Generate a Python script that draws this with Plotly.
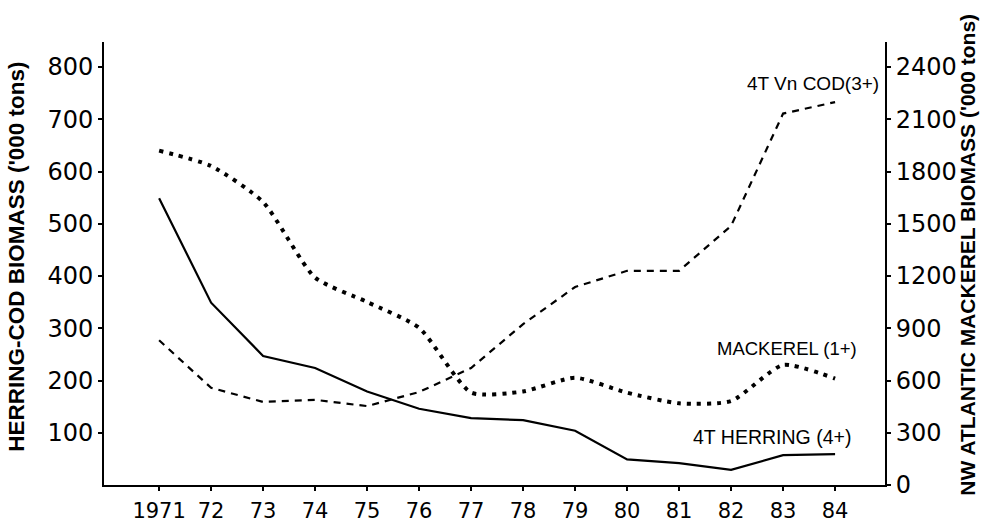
import plotly.graph_objects as go

years = [1971, 1972, 1973, 1974, 1975, 1976, 1977, 1978, 1979, 1980, 1981, 1982, 1983, 1984]
year_labels = ["1971", "72", "73", "74", "75", "76", "77", "78", "79", "80", "81", "82", "83", "84"]

herring_4t = [549, 349, 247, 224, 179, 146, 128, 124, 104, 49, 42, 29, 57, 59]
cod_4tvn = [277, 186, 159, 163, 151, 178, 224, 308, 379, 410, 410, 496, 711, 733]
mackerel_nw = [1920, 1832, 1625, 1191, 1051, 903, 531, 537, 616, 530, 469, 482, 689, 611]

left_ticks = [100, 200, 300, 400, 500, 600, 700, 800]
right_ticks = [0, 300, 600, 900, 1200, 1500, 1800, 2100, 2400]

LEFT_MAX = 848
BLACK = "#000000"
TICKFONT = dict(family="DejaVu Sans", size=24, color=BLACK)

fig = go.Figure()

fig.add_trace(go.Scatter(
    x=years, y=herring_4t, mode="lines", name="4T HERRING (4+)",
    line=dict(color=BLACK, width=2.2), yaxis="y"))

fig.add_trace(go.Scatter(
    x=years, y=cod_4tvn, mode="lines", name="4T Vn COD(3+)",
    line=dict(color=BLACK, width=2.2, dash="7px,6px"), yaxis="y"))

fig.add_trace(go.Scatter(
    x=years, y=mackerel_nw, mode="lines", name="MACKEREL (1+)",
    line=dict(color=BLACK, width=4, dash="4px,6px", shape="spline", smoothing=0.6),
    yaxis="y2"))

annotations = [
    dict(x=1983.58, y=769, xref="x", yref="y", text="4T Vn COD(3+)", showarrow=False,
         xanchor="center", yanchor="middle",
         font=dict(family="Liberation Sans", size=19, color=BLACK)),
    dict(x=1983.08, y=262, xref="x", yref="y", text="MACKEREL (1+)", showarrow=False,
         xanchor="center", yanchor="middle",
         font=dict(family="Liberation Sans", size=18.5, color=BLACK)),
    dict(x=1982.79, y=92, xref="x", yref="y", text="4T HERRING (4+)", showarrow=False,
         xanchor="center", yanchor="middle",
         font=dict(family="Liberation Sans", size=19.5, color=BLACK)),
    dict(x=-0.1114, y=0.515, xref="paper", yref="paper", text="HERRING-COD BIOMASS ('000 tons)",
         textangle=-90, showarrow=False, xanchor="center", yanchor="middle",
         font=dict(family="Liberation Sans", size=22.5, color=BLACK, weight="bold")),
    dict(x=1.1063, y=0.52, xref="paper", yref="paper", text="NW ATLANTIC MACKEREL BIOMASS ('000 tons)",
         textangle=-90, showarrow=False, xanchor="center", yanchor="middle",
         font=dict(family="Liberation Sans", size=21, color=BLACK, weight="bold")),
]

fig.update_layout(
    width=997, height=523,
    margin=dict(l=104, r=112, t=42, b=38),
    paper_bgcolor="white", plot_bgcolor="white",
    showlegend=False,
    annotations=annotations,
    xaxis=dict(
        range=[1969.94, 1984.96], tickvals=years, ticktext=year_labels,
        showline=True, linecolor=BLACK, linewidth=2, ticks="outside", ticklen=4,
        tickcolor=BLACK, tickwidth=1.5, showgrid=False, zeroline=False, automargin=False,
        tickfont=dict(family="DejaVu Sans", size=21, color=BLACK), ticklabelstandoff=2),
    yaxis=dict(
        range=[0, LEFT_MAX], tickvals=left_ticks,
        showline=True, linecolor=BLACK, linewidth=2, ticks="outside", ticklen=4,
        tickcolor=BLACK, tickwidth=1.5, showgrid=False, zeroline=False, automargin=False,
        tickfont=TICKFONT),
    yaxis2=dict(
        range=[0, LEFT_MAX * 3], tickvals=right_ticks, overlaying="y", side="right",
        showline=True, linecolor=BLACK, linewidth=2, ticks="outside", ticklen=4,
        tickcolor=BLACK, tickwidth=1.5, showgrid=False, zeroline=False, automargin=False,
        tickfont=TICKFONT),
)

fig.write_html("out.html")
